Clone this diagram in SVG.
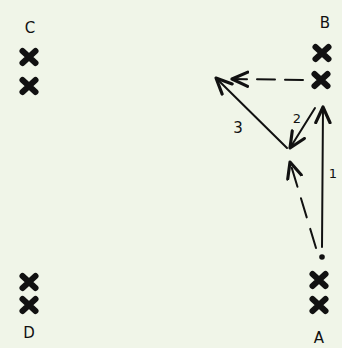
<svg xmlns="http://www.w3.org/2000/svg" width="342" height="348" viewBox="0 0 342 348">
<style>
.lbl{font-family:"DejaVu Sans","Liberation Sans",sans-serif;font-size:15px;fill:#111;text-anchor:middle}
.x{stroke:#111;stroke-width:6;stroke-linecap:round;fill:none}
.ln{stroke:#111;stroke-width:2;fill:none;stroke-linecap:round}
.dash{stroke-dasharray:18 10}
</style>
<defs>
<marker id="ah" markerUnits="userSpaceOnUse" markerWidth="20" markerHeight="20" refX="12" refY="6" orient="auto" viewBox="0 0 14 12">
<path d="M1,1 L12,6 L1,11" fill="none" stroke="#111" stroke-width="2.2" stroke-linecap="round" stroke-linejoin="round"/>
</marker>
<path id="cross" d="M-6.5,-6 L6.5,6 M6.5,-6 L-6.5,6"/>
</defs>
<rect width="342" height="348" fill="#f0f5e8"/>
<g id="C">
<text class="lbl" x="30" y="33">C</text>
<use href="#cross" class="x" x="29" y="57"/>
<use href="#cross" class="x" x="29" y="86"/>
</g>
<g id="D">
<use href="#cross" class="x" x="29" y="282"/>
<use href="#cross" class="x" x="29" y="305"/>
<text class="lbl" x="29" y="338">D</text>
</g>
<g id="B">
<text class="lbl" x="325" y="28">B</text>
<use href="#cross" class="x" x="322" y="53"/>
<use href="#cross" class="x" x="321" y="80"/>
</g>
<g id="A">
<circle cx="322" cy="257" r="2.8" fill="#111"/>
<use href="#cross" class="x" x="319" y="280"/>
<use href="#cross" class="x" x="319" y="305"/>
<text class="lbl" x="319" y="343">A</text>
</g>
<g id="connectors">
<path class="ln dash" d="M303,80 L232,79" marker-end="url(#ah)"/>
<path class="ln" d="M287,148 L216,78" marker-end="url(#ah)"/>
<path class="ln" d="M315,108 L290,148" marker-end="url(#ah)"/>
<path class="ln" d="M322,247 L323,107" marker-end="url(#ah)"/>
<path class="ln" d="M316,248 L290,162" stroke-dasharray="20 12" marker-end="url(#ah)"/>
<text class="lbl" x="238" y="133">3</text>
<text class="lbl" x="297" y="123" style="font-size:13px">2</text>
<text class="lbl" x="333" y="178" style="font-size:13px">1</text>
</g>
</svg>
